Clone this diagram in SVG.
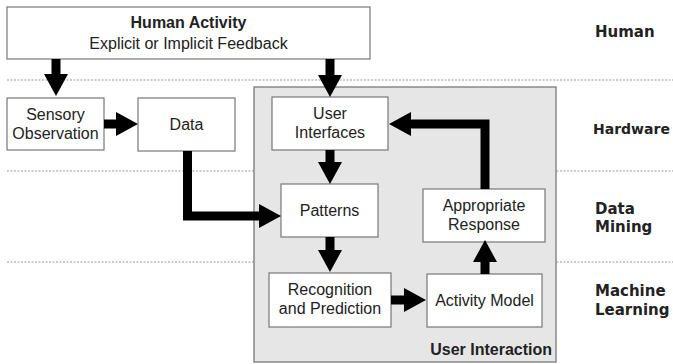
<svg xmlns="http://www.w3.org/2000/svg" width="673" height="364" viewBox="0 0 673 364">
<defs>
<marker id="ah" viewBox="0 0 22 24" markerWidth="22" markerHeight="24" refX="0" refY="12" orient="auto" markerUnits="userSpaceOnUse">
<path d="M0,0 L22,12 L0,24 z" fill="#000"/>
</marker>
<style>
.box{fill:#fff;stroke:#777;stroke-width:1.2}
.t{font-family:"Liberation Sans",Arial,sans-serif;font-size:16px;fill:#222;text-anchor:middle}
.tb{font-family:"Liberation Sans",Arial,sans-serif;font-size:16px;font-weight:bold;fill:#222;text-anchor:middle}
.lay{font-family:"DejaVu Sans",sans-serif;font-size:15px;font-weight:bold;fill:#222}
.dot{stroke:#999;stroke-width:1;stroke-dasharray:2 1.5}
.c{fill:none;stroke:#000;stroke-width:9;marker-end:url(#ah)}
</style>
</defs>
<rect width="673" height="364" fill="#fff"/>
<g id="layers">
<line class="dot" x1="7" y1="80" x2="673" y2="80"/>
<line class="dot" x1="7" y1="171" x2="673" y2="171"/>
<line class="dot" x1="7" y1="262" x2="673" y2="262"/>
</g>
<g id="user-interaction">
<rect x="254" y="87" width="302" height="275" fill="#e6e6e6" stroke="#888" stroke-width="1.5"/>
<text x="552" y="355" font-family="Liberation Sans,Arial,sans-serif" font-size="16" font-weight="bold" fill="#222" text-anchor="end">User Interaction</text>
</g>
<g id="layer-labels">
<text class="lay" x="595" y="37">Human</text>
<text class="lay" x="593" y="134" style="font-size:14px">Hardware</text>
<text class="lay" x="595" y="214">Data</text>
<text class="lay" x="595" y="232">Mining</text>
<text class="lay" x="595" y="296">Machine</text>
<text class="lay" x="595" y="315">Learning</text>
</g>
<g id="human-activity">
<rect class="box" x="7" y="7" width="363" height="52"/>
<text class="tb" x="188.5" y="28">Human Activity</text>
<text class="t" x="188.5" y="49">Explicit or Implicit Feedback</text>
</g>
<g id="sensory">
<rect class="box" x="7" y="98" width="97" height="52"/>
<text class="t" x="55.5" y="120">Sensory</text>
<text class="t" x="55.5" y="139">Observation</text>
</g>
<g id="data">
<rect class="box" x="138" y="98" width="97" height="53"/>
<text class="t" x="186.5" y="130">Data</text>
</g>
<g id="user-interfaces">
<rect class="box" x="272" y="97" width="116" height="53"/>
<text class="t" x="330" y="119">User</text>
<text class="t" x="330" y="138">Interfaces</text>
</g>
<g id="patterns">
<rect class="box" x="281" y="184" width="97" height="53"/>
<text class="t" x="329.5" y="216">Patterns</text>
</g>
<g id="appropriate-response">
<rect class="box" x="423" y="189" width="122" height="53"/>
<text class="t" x="484" y="211">Appropriate</text>
<text class="t" x="484" y="230">Response</text>
</g>
<g id="recognition">
<rect class="box" x="269" y="273" width="122" height="54"/>
<text class="t" x="330" y="295">Recognition</text>
<text class="t" x="330" y="314">and Prediction</text>
</g>
<g id="activity-model">
<rect class="box" x="427" y="274" width="115" height="53"/>
<text class="t" x="484.5" y="306">Activity Model</text>
</g>
<g id="connectors">
<path class="c" d="M56,59 V74"/>
<path class="c" d="M330,59 V75"/>
<path class="c" d="M104,124 H116"/>
<path class="c" d="M187.5,151 V216 H259"/>
<path class="c" d="M330,150 V162"/>
<path class="c" d="M330,237 V250"/>
<path class="c" d="M391,300 H404"/>
<path class="c" d="M485,274 V262"/>
<path class="c" d="M485,189 V124 H411"/>
</g>
</svg>
